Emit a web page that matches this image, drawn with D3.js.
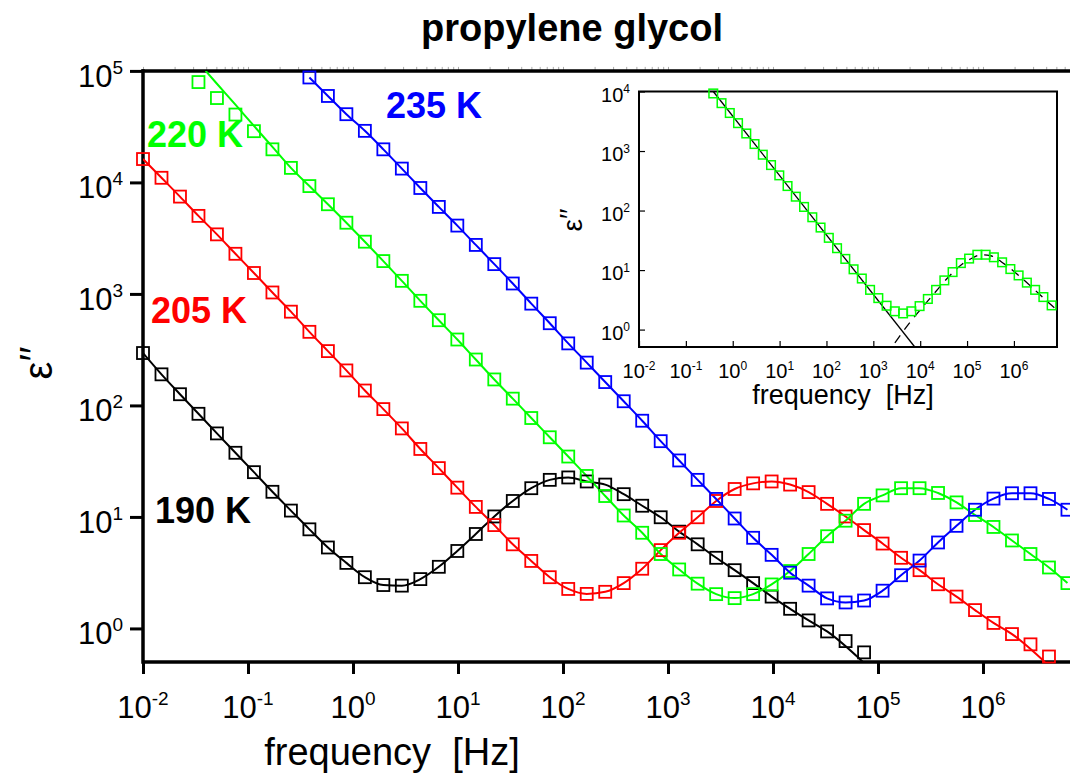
<!DOCTYPE html>
<html>
<head>
<meta charset="utf-8">
<script src="https://cdn.jsdelivr.net/npm/d3@7"></script>
<style>
  body { margin: 0; background: #fff; }
  svg { display: block; }
  text { font-family: "Liberation Sans", Arial, sans-serif; fill: #000; white-space: pre; }
</style>
</head>
<body>
<svg id="chart" width="1070" height="778"></svg>
<script>
// measurement grid [Hz], shared by all temperatures
var freq = [0.01, 0.015, 0.0225, 0.03375, 0.0506, 0.0759, 0.1139, 0.1709, 0.2563, 0.3844,
  0.5767, 0.865, 1.2975, 1.946, 2.919, 4.379, 6.568, 9.853, 14.78, 22.17,
  33.25, 49.88, 74.82, 112.2, 168.3, 252.5, 378.8, 568.1, 852.2, 1278,
  1917, 2876, 4314, 6471, 9707, 14560, 21840, 32760, 49140, 73710,
  110600, 165900, 248800, 373200, 559800, 839700, 1259000, 1889000, 2834000, 4251000,
  6376000];

// eps'' (null = not shown)
var eps190 = [295, 190, 126, 84.1, 56.1, 37.6, 25.2, 16.8, 11.4, 7.74,
  5.32, 3.87, 2.88, 2.45, 2.42, 2.77, 3.57, 4.95, 7.03, 10.1,
  13.9, 18.1, 21.5, 22.6, 20.8, 19.5, 16.0, 12.6, 9.93, 7.38,
  5.68, 4.30, 3.33, 2.55, 1.93, 1.50, 1.18, 0.94, 0.77, 0.61,
  null, null, null, null, null, null, null, null, null, null, null];
var eps205 = [16200, 11000, 7460, 5010, 3420, 2290, 1540, 1030, 693, 457,
  307, 206, 136, 92.7, 62.2, 40.7, 27.4, 18.3, 12.3, 8.45,
  5.68, 4.03, 2.88, 2.26, 2.04, 2.13, 2.55, 3.43, 5.04, 7.21,
  9.93, 13.9, 17.8, 20.0, 20.8, 19.5, 16.7, 13.1, 10.1, 7.62,
  5.77, 4.30, 3.33, 2.49, 1.93, 1.46, 1.12, 0.89, 0.72, 0.56, null];
var eps220 = [null, null, null, 79400, 57100, 40600, 28800, 19800, 13500, 9270,
  6370, 4350, 2940, 1970, 1310, 867, 581, 390, 258, 171,
  115, 77.1, 51.8, 34.8, 23.3, 15.4, 10.3, 7.21, 4.65, 3.38,
  2.52, 2.03, 1.87, 2.03, 2.48, 3.27, 4.65, 6.71, 9.25, 13.1,
  15.6, 18.1, 18.1, 16.4, 13.5, 10.4, 8.13, 6.15, 4.65, 3.52, 2.55];
var eps235 = [null, null, null, null, null, null, null, null, null, 87300,
  59600, 40900, 29000, 19800, 13300, 8910, 6030, 4100, 2750, 1850,
  1240, 818, 546, 360, 242, 162, 109, 72.9, 47.8, 32.1,
  21.5, 14.5, 9.68, 6.50, 4.57, 3.16, 2.42, 1.86, 1.71, 1.78,
  2.18, 3.00, 4.06, 5.90, 8.32, 11.6, 14.6, 16.3, 16.3, 14.5, 11.6];

// fit curve pieces that leave the data points [freq, eps'']
var fitHead220 = [[0.0395, 100000], [0.0506, 76700], [0.0759, 49800], [0.114, 32100], [0.171, 20800]];
var fitTail190 = [[71900, 0.5]];
var fitTail205 = [[3890000, 0.5]];

// inset (220 K): conductivity line and relaxation fit
var insetDc = [[0.385, 10000], [7670, 0.51]];
var insetPeak = [[2884, 0.60], [6310, 1.38], [10000, 2.14], [20000, 4.07], [39800, 7.59],
  [79400, 12.6], [126000, 15.8], [200000, 18.0], [316000, 17.4], [631000, 12.6],
  [1260000, 8.13], [2510000, 5.01], [5010000, 3.02], [8300000, 2.14]];

var tempLabels = ["190 K", "205 K", "220 K", "235 K"];
var xExps = [-2, -1, 0, 1, 2, 3, 4, 5, 6];
var yExps = [0, 1, 2, 3, 4, 5];
var insetXExps = [-2, -1, 0, 1, 2, 3, 4, 5, 6];
var insetYExps = [0, 1, 2, 3, 4];

var svg = d3.select("#chart");

var x = d3.scaleLog().domain([0.01, 7.2e6]).range([143, 1073]);
var y = d3.scaleLog().domain([0.5, 1e5]).range([662, 70.9]);

var series = [
  {values: eps190, color: "#000000", label: tempLabels[0], from: 0, to: 37, head: [], tail: fitTail190, lx: 155, ly: 523},
  {values: eps205, color: "#ff0000", label: tempLabels[1], from: 0, to: 47, head: [], tail: fitTail205, lx: 151, ly: 323},
  {values: eps220, color: "#00ff00", label: tempLabels[2], from: 8, to: 50, head: fitHead220, tail: [], lx: 147, ly: 147},
  {values: eps235, color: "#0000ff", label: tempLabels[3], from: 9, to: 50, head: [], tail: [], lx: 386, ly: 118}
];

function minorTicks(lo, hi) {
  var out = [];
  for (var e = -3; e <= 8; e++) {
    for (var m = 1; m <= 9; m++) {
      var v = m * Math.pow(10, e);
      if (v >= lo && v <= hi) out.push(v);
    }
  }
  return out;
}

function powLabel(g, px, py, exp, size, supSize, anchor) {
  var t = g.append("text")
    .attr("x", px).attr("y", py)
    .attr("text-anchor", anchor)
    .style("font-size", size + "px");
  t.append("tspan").text("10");
  t.append("tspan").attr("dy", -size * 0.42).style("font-size", supSize + "px").text(exp);
}

svg.append("defs").append("clipPath").attr("id", "clip")
  .append("rect").attr("x", 143).attr("y", 70.9).attr("width", 930).attr("height", 591.1);

// title
svg.append("text").attr("x", 572).attr("y", 41).attr("text-anchor", "middle")
  .style("font-size", "38px").style("font-weight", "bold").text("propylene glycol");

// main axes
var xMinor = minorTicks(0.01, 7.2e6);
var yMinor = minorTicks(0.5, 1e5);
var xMajor = xExps.map(function (e) { return Math.pow(10, e); });
var yMajor = yExps.map(function (e) { return Math.pow(10, e); });

var gx = svg.append("g").attr("transform", "translate(0,662)");
gx.call(d3.axisBottom(x).tickValues(xMinor).tickSize(6).tickFormat(""));
gx.call(d3.axisBottom(x).tickValues(xMajor).tickSize(12).tickFormat(""));
gx.selectAll(".domain").remove();
gx.selectAll("line").attr("stroke", "#000").attr("stroke-width", 3);

var gy = svg.append("g").attr("transform", "translate(143,0)");
gy.call(d3.axisLeft(y).tickValues(yMinor).tickSize(6).tickFormat(""));
gy.call(d3.axisLeft(y).tickValues(yMajor).tickSize(13).tickFormat(""));
gy.selectAll(".domain").remove();
gy.selectAll("line").attr("stroke", "#000").attr("stroke-width", 3);

// faint ticks above the top frame
var gt = svg.append("g").attr("transform", "translate(0,70.9)");
gt.call(d3.axisTop(x).tickValues(xMinor).tickSize(4).tickFormat(""));
gt.selectAll(".domain").remove();
gt.selectAll("line").attr("stroke", "#aaa").attr("stroke-width", 1);

svg.append("line").attr("x1", 143).attr("x2", 1070).attr("y1", 662).attr("y2", 662)
  .attr("stroke", "#000").attr("stroke-width", 3.5);
svg.append("line").attr("x1", 143).attr("x2", 143).attr("y1", 69.2).attr("y2", 663.7)
  .attr("stroke", "#000").attr("stroke-width", 3.5);
svg.append("line").attr("x1", 141.5).attr("x2", 1070).attr("y1", 70.9).attr("y2", 70.9)
  .attr("stroke", "#000").attr("stroke-width", 3.5);

xExps.forEach(function (e) {
  powLabel(svg, x(Math.pow(10, e)), 718, e, 31, 19, "middle");
});
yExps.forEach(function (e) {
  powLabel(svg, 123, y(Math.pow(10, e)) + 16, e, 31, 19, "end");
});

svg.append("text").attr("x", 392).attr("y", 765).attr("text-anchor", "middle")
  .style("font-size", "38px").text("frequency  [Hz]");

var yl = svg.append("text").attr("transform", "translate(52,363) rotate(-90)")
  .attr("text-anchor", "middle").style("font-size", "40px");
yl.append("tspan").text("ε");
yl.append("tspan").attr("dy", -4).text("′′");

// fit lines and data
var line = d3.line()
  .x(function (d) { return x(d[0]); })
  .y(function (d) { return y(d[1]); })
  .curve(d3.curveMonotoneX);

var plot = svg.append("g");
series.forEach(function (s) {
  var pts = [];
  freq.forEach(function (f, i) {
    if (s.values[i] != null && i >= s.from && i <= s.to) pts.push([f, s.values[i]]);
  });
  var lineData = s.head.concat(pts).concat(s.tail);
  plot.append("path")
    .attr("clip-path", "url(#clip)")
    .attr("d", line(lineData))
    .attr("fill", "none")
    .attr("stroke", s.color)
    .attr("stroke-width", 2);
});
series.forEach(function (s) {
  var data = freq.map(function (f, i) { return [f, s.values[i]]; })
    .filter(function (d) { return d[1] != null; });
  plot.selectAll(null).data(data).enter().append("rect")
    .attr("x", function (d) { return x(d[0]) - 6; })
    .attr("y", function (d) { return y(d[1]) - 6; })
    .attr("width", 12).attr("height", 12)
    .attr("fill", "none")
    .attr("stroke", s.color)
    .attr("stroke-width", 1.8);
});
series.forEach(function (s) {
  svg.append("text").attr("x", s.lx).attr("y", s.ly)
    .style("font-size", "36px").style("font-weight", "bold")
    .style("fill", s.color).text(s.label);
});

// inset
var xi = d3.scaleLog().domain([0.01, 8.3e6]).range([639, 1057]);
var yi = d3.scaleLog().domain([0.51, 1e4]).range([347, 91.5]);
var inset = svg.append("g");
inset.append("rect").attr("x", 639).attr("y", 91.5).attr("width", 418).attr("height", 255.5)
  .attr("fill", "#fff").attr("stroke", "#000").attr("stroke-width", 2);

var gxi = inset.append("g").attr("transform", "translate(0,347)");
gxi.call(d3.axisTop(xi).tickValues(minorTicks(0.01, 8.3e6)).tickSize(3).tickFormat(""));
gxi.call(d3.axisTop(xi).tickValues(insetXExps.map(function (e) { return Math.pow(10, e); })).tickSize(6).tickFormat(""));
gxi.selectAll(".domain").remove();
gxi.selectAll("line").attr("stroke", "#000").attr("stroke-width", 1.2);

var gyi = inset.append("g").attr("transform", "translate(639,0)");
gyi.call(d3.axisRight(yi).tickValues(minorTicks(0.51, 1e4)).tickSize(3).tickFormat(""));
gyi.call(d3.axisRight(yi).tickValues(insetYExps.map(function (e) { return Math.pow(10, e); })).tickSize(6).tickFormat(""));
gyi.selectAll(".domain").remove();
gyi.selectAll("line").attr("stroke", "#000").attr("stroke-width", 1.2);

insetXExps.forEach(function (e) {
  powLabel(inset, xi(Math.pow(10, e)), 378, e, 20, 12, "middle");
});
insetYExps.forEach(function (e) {
  powLabel(inset, 630, yi(Math.pow(10, e)) + 10, e, 20, 12, "end");
});
inset.append("text").attr("x", 843).attr("y", 404).attr("text-anchor", "middle")
  .style("font-size", "27px").text("frequency  [Hz]");
var yli = inset.append("text").attr("transform", "translate(582,220) rotate(-90)")
  .attr("text-anchor", "middle").style("font-size", "28px");
yli.append("tspan").text("ε");
yli.append("tspan").attr("dy", -3).text("′′");

var lineIn = d3.line()
  .x(function (d) { return xi(d[0]); })
  .y(function (d) { return yi(d[1]); })
  .curve(d3.curveMonotoneX);

inset.append("path").attr("d", lineIn(insetDc))
  .attr("fill", "none").attr("stroke", "#000").attr("stroke-width", 1.3);
inset.append("path").attr("d", lineIn(insetPeak))
  .attr("fill", "none").attr("stroke", "#000").attr("stroke-width", 1.3)
  .attr("stroke-dasharray", "9,7");

var insetPts = freq.map(function (f, i) { return [f, eps220[i]]; })
  .filter(function (d, i) { return d[1] != null && i >= 9; });
inset.selectAll(null).data(insetPts).enter().append("rect")
  .attr("x", function (d) { return xi(d[0]) - 4.3; })
  .attr("y", function (d) { return yi(d[1]) - 4.3; })
  .attr("width", 8.6).attr("height", 8.6)
  .attr("fill", "none")
  .attr("stroke", "#00ff00")
  .attr("stroke-width", 1.5);
</script>
</body>
</html>
